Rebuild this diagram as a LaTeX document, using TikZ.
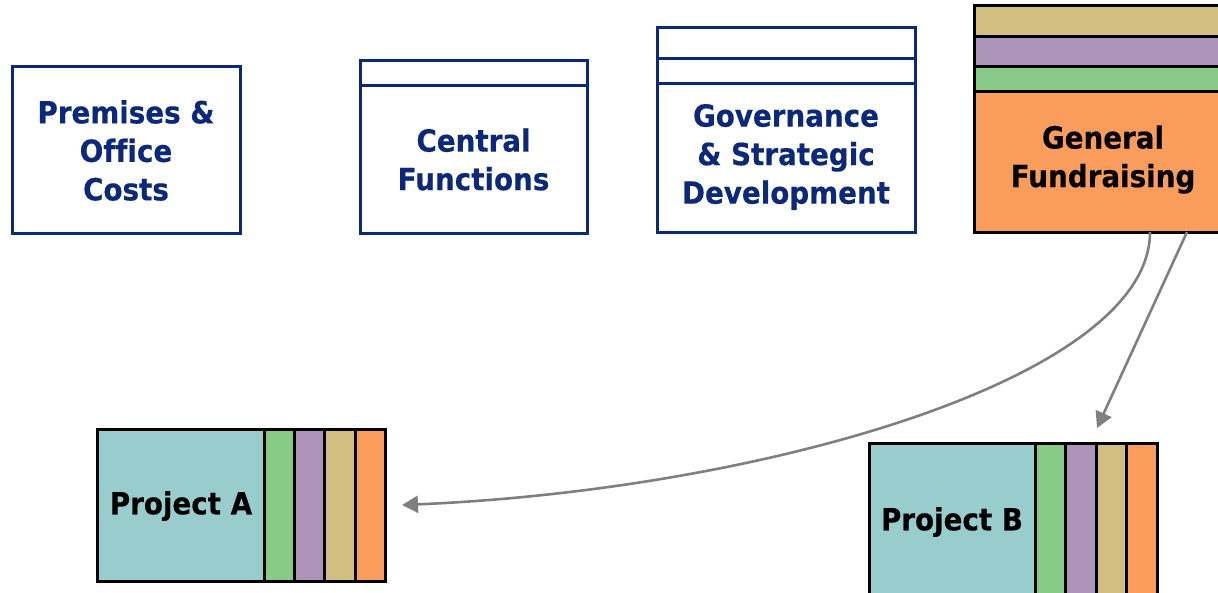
\documentclass[tikz,border=0pt]{standalone}
\usepackage{fontspec}
\newfontfamily\dfont{DejaVu Sans}[FakeStretch=0.91,FakeBold=0.4,Ligatures=NoCommon]
\usetikzlibrary{arrows.meta}
\definecolor{navy}{RGB}{12,40,122}
\definecolor{ctan}{RGB}{211,190,130}
\definecolor{cpurple}{RGB}{172,148,184}
\definecolor{cgreen}{RGB}{136,201,135}
\definecolor{corange}{RGB}{249,156,92}
\definecolor{cteal}{RGB}{153,204,205}
\definecolor{cgray}{RGB}{127,127,127}
\begin{document}
\begin{tikzpicture}[x=1pt,y=-1pt,
  bluebox/.style={draw=navy,line width=3pt,fill=white,inner sep=0pt,outer sep=0pt},
  navyline/.style={draw=navy,line width=3pt},
  bluetext/.style={text=navy,font=\dfont\bfseries\fontsize{30.5}{38.5}\selectfont,align=center,inner sep=0pt},
  blkbox/.style={draw=black,line width=3pt,inner sep=0pt,outer sep=0pt},
  blktext/.style={text=black,font=\dfont\bfseries\fontsize{30.5}{38.5}\selectfont,align=center,inner sep=0pt},
  conn/.style={draw=cgray,line width=2.6pt,-{Triangle[length=16pt,width=17pt]}}]
\useasboundingbox (0,0) rectangle (1218,592);

% Premises & Office Costs
\node[bluebox,minimum width=228pt,minimum height=167pt] (pre) at (126,149.5) {};
\node[bluetext] (pret) at (126,150.5) {Premises \&\\Office\\Costs};

% Central Functions
\node[bluebox,minimum width=227pt,minimum height=173pt] (cf) at (473.5,146.5) {};
\draw[navyline] (360,85) -- (587,85);
\node[bluetext] (cft) at (473.5,159.5) {Central\\Functions};

% Governance
\node[bluebox,minimum width=258pt,minimum height=205pt] (gov) at (786,129.5) {};
\draw[navyline] (657,58) -- (915,58);
\draw[navyline] (657,83) -- (915,83);
\node[bluetext] (govt) at (786,157) {Governance\\\& Strategic\\Development};

% General Fundraising
\node[blkbox,fill=ctan,minimum width=258pt,minimum height=31pt] (gfT) at (1103,20.5) {};
\node[blkbox,fill=cpurple,minimum width=258pt,minimum height=30pt] (gfP) at (1103,51) {};
\node[blkbox,fill=cgreen,minimum width=258pt,minimum height=25pt] (gfG) at (1103,78.5) {};
\node[blkbox,fill=corange,minimum width=258pt,minimum height=141pt] (gf) at (1103,161.5) {};
\node[blktext] (gft) at (1103,159.5) {General\\Fundraising};

% Project A
\node[blkbox,fill=cteal,minimum width=167pt,minimum height=152pt] (pa) at (180.5,505) {};
\node[blkbox,fill=cgreen,minimum width=30pt,minimum height=152pt] (paG) at (279,505) {};
\node[blkbox,fill=cpurple,minimum width=30pt,minimum height=152pt] (paP) at (309,505) {};
\node[blkbox,fill=ctan,minimum width=31pt,minimum height=152pt] (paT) at (339.5,505) {};
\node[blkbox,fill=corange,minimum width=30pt,minimum height=152pt] (paO) at (370,505) {};
\node[blktext] (pat) at (181,506) {Project A};

% Project B
\node[blkbox,fill=cteal,minimum width=166pt,minimum height=152pt] (pb) at (952,519) {};
\node[blkbox,fill=cgreen,minimum width=30pt,minimum height=152pt] (pbG) at (1050,519) {};
\node[blkbox,fill=cpurple,minimum width=31pt,minimum height=152pt] (pbP) at (1080.5,519) {};
\node[blkbox,fill=ctan,minimum width=30pt,minimum height=152pt] (pbT) at (1111,519) {};
\node[blkbox,fill=corange,minimum width=31pt,minimum height=152pt] (pbO) at (1141.5,519) {};
\node[blktext] (pbt) at (952,522) {Project B};

% connectors
\draw[conn] ([xshift=47pt]gf.south) .. controls +(0,147) and +(358,-15) .. ([xshift=17pt]paO.east);
\draw[conn] ([xshift=84pt]gf.south) -- ([xshift=-14pt,yshift=15pt]pbT.north);
\end{tikzpicture}
\end{document}
